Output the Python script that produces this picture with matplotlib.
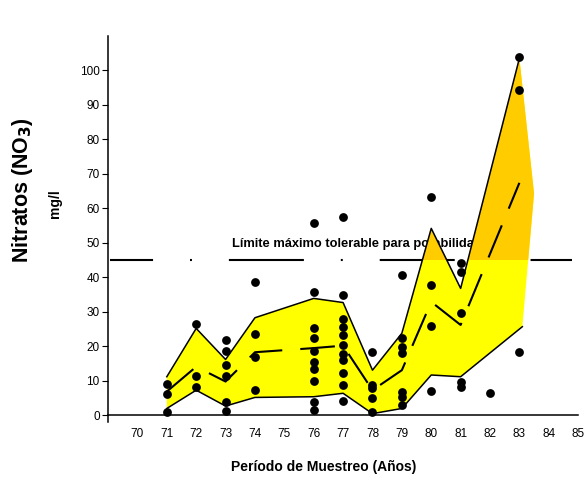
import matplotlib
matplotlib.use('Agg')
import matplotlib.pyplot as plt
from matplotlib.patches import Rectangle
import numpy as np

plt.rcParams['font.family'] = ['Liberation Sans', 'DejaVu Sans']
plt.rcParams['lines.scale_dashes'] = False

# samples per year (year, nitrate mg/l)
dot_year = [71, 71, 71,
            72, 72, 72,
            73, 73, 73, 73, 73, 73,
            74, 74, 74, 74,
            76, 76, 76, 76, 76, 76, 76, 76, 76, 76,
            77, 77, 77, 77, 77, 77, 77, 77, 77, 77, 77,
            78, 78, 78, 78, 78,
            79, 79, 79, 79, 79, 79, 79,
            80, 80, 80, 80,
            81, 81, 81, 81, 81,
            82,
            83, 83, 83]
dot_val = [9.0, 6.1, 0.8,
           26.4, 11.4, 8.2,
           21.7, 18.6, 14.5, 11.3, 3.9, 1.2,
           38.6, 23.6, 16.8, 7.2,
           55.6, 35.6, 25.1, 22.2, 18.6, 15.3, 13.2, 9.9, 3.9, 1.6,
           57.4, 34.8, 27.7, 25.6, 23.2, 20.3, 17.7, 15.9, 12.1, 8.7, 4.2,
           18.2, 8.7, 7.7, 4.8, 1.0,
           40.6, 22.2, 19.8, 18.1, 6.8, 5.3, 2.9,
           63.3, 37.7, 25.8, 7.0,
           44.2, 41.4, 29.7, 9.7, 8.0,
           6.5,
           103.7, 94.2, 18.3]

# envelope of the samples
upper_year = [71, 72, 73, 74, 76, 77, 78, 79, 80, 81, 83]
upper_val = [11.1, 25.1, 16.1, 28.2, 33.8, 32.6, 13.0, 23.7, 54.1, 36.7, 103.4]
lower_year = [71, 72, 73, 74, 76, 77, 78, 79, 80, 81, 83.1]
lower_val = [1.9, 7.2, 2.6, 5.1, 5.3, 6.3, 0.4, 1.9, 11.6, 11.1, 25.6]
edge_year = [83.5]
edge_val = [64.2]

# median trend
med_year = [71, 72, 73, 74, 76, 77, 78, 79, 80, 81, 82, 83]
med_val = [6.8, 14.0, 9.7, 18.2, 19.4, 20.1, 7.2, 13.0, 32.8, 26.1, 46.7, 67.3]

limit = 45
xticks = list(range(70, 86))
yticks = list(range(0, 101, 10))

fig = plt.figure(figsize=(5.84, 4.8), dpi=100)
ax = fig.add_axes([0.185, 0.121, 0.805, 0.805])
ax.set_xlim(69, 85)
ax.set_ylim(-2, 110)

# limit line (drawn under the fill)
ax.plot([69.07, 84.8], [limit, limit], color='black', lw=1.5, zorder=1,
        linestyle=(23, (54, 26.6, 1.4, 26.6)), solid_capstyle='butt', dash_capstyle='butt')
ax.text(73.22, 49.6, 'Límite máximo tolerable para potabilidad', fontsize=9.3,
        fontweight='bold', ha='left', va='center', zorder=1.5)

# envelope polygon
px = upper_year + edge_year + lower_year[::-1]
py = upper_val + edge_val + lower_val[::-1]
ax.fill(px, py, color='#ffff00', zorder=2, lw=0)
top = ax.fill(px, py, color='#ffcc00', zorder=2.1, lw=0)[0]
clip = Rectangle((69, limit), 16, 70, transform=ax.transData)
top.set_clip_path(clip)

ax.plot(upper_year, upper_val, color='black', lw=1.1, zorder=3)
ax.plot(lower_year, lower_val, color='black', lw=1.1, zorder=3)
ax.plot(med_year, med_val, color='black', lw=1.5, zorder=3,
        linestyle=(0, (25, 13)), dash_capstyle='butt')

ax.scatter(dot_year, dot_val, s=40, color='black', zorder=4, linewidths=0)

# axes styling
ax.spines['top'].set_visible(False)
ax.spines['right'].set_visible(False)
ax.spines['bottom'].set_position(('data', 0))
ax.spines['left'].set_linewidth(1.1)
ax.spines['bottom'].set_linewidth(1.1)
ax.set_xticks(xticks)
ax.set_xticklabels([str(t) for t in xticks])
ax.set_xticks([85], minor=True)
ax.tick_params(axis='x', which='major', length=0, pad=9, labelsize=8.5)
ax.tick_params(axis='x', which='minor', length=6, width=1)
ax.set_yticks(yticks)
ax.tick_params(axis='y', length=4, width=0.8, pad=2, labelsize=8.5)

fig.text(0.038, 0.604, 'Nitratos (NO$_\\mathbf{3}$)', rotation=90, fontsize=15.5,
         fontweight='bold', ha='center', va='center')
fig.text(0.094, 0.575, 'mg/l', rotation=90, fontsize=10, fontweight='bold',
         ha='center', va='center')
fig.text(0.555, 0.027, 'Período de Muestreo (Años)', fontsize=10, fontweight='bold',
         ha='center', va='center')

fig.savefig('out.png', dpi=100)
